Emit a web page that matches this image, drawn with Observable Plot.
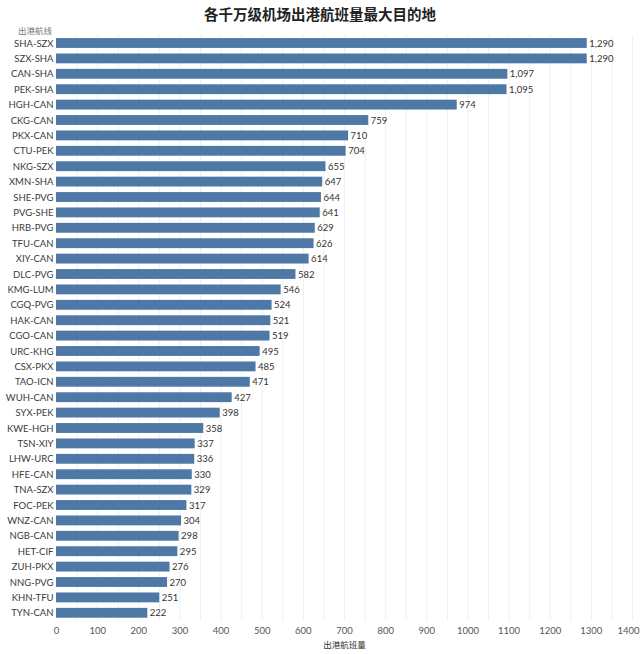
<!DOCTYPE html>
<html>
<head>
<meta charset="utf-8">
<script src="https://cdn.jsdelivr.net/npm/d3@7"></script>
<script src="https://cdn.jsdelivr.net/npm/@observablehq/plot@0.6"></script>
<style>
  body { margin: 0; background: white; }
  #wrap { position: relative; width: 640px; height: 654px; overflow: hidden; }
  #title { position: absolute; left: 0; top: 4px; width: 640px; text-align: center; font-family: "Noto Sans CJK SC", sans-serif; font-weight: bold; font-size: 14.5px; color: #222; line-height: 20px; }
  #ylab { position: absolute; left: 18px; top: 24px; font-family: "Noto Sans CJK SC", sans-serif; font-size: 8.5px; color: #777; line-height: 12px; }
  #chart { position: absolute; left: 0; top: 28px; }
</style>
</head>
<body>
<div id="wrap">
  <div id="title">各千万级机场出港航班量最大目的地</div>
  <div id="ylab">出港航线</div>
  <div id="chart"></div>
</div>
<script>
const routes = ["SHA-SZX","SZX-SHA","CAN-SHA","PEK-SHA","HGH-CAN","CKG-CAN","PKX-CAN","CTU-PEK","NKG-SZX","XMN-SHA","SHE-PVG","PVG-SHE","HRB-PVG","TFU-CAN","XIY-CAN","DLC-PVG","KMG-LUM","CGQ-PVG","HAK-CAN","CGO-CAN","URC-KHG","CSX-PKX","TAO-ICN","WUH-CAN","SYX-PEK","KWE-HGH","TSN-XIY","LHW-URC","HFE-CAN","TNA-SZX","FOC-PEK","WNZ-CAN","NGB-CAN","HET-CIF","ZUH-PKX","NNG-PVG","KHN-TFU","TYN-CAN"];
const flights = [1290,1290,1097,1095,974,759,710,704,655,647,644,641,629,626,614,582,546,524,521,519,495,485,471,427,398,358,337,336,330,329,317,304,298,295,276,270,251,222];
const xTicks = [0,100,200,300,400,500,600,700,800,900,1000,1100,1200,1300,1400];
const gridValues = d3.range(50, 1450, 50);

const data = routes.map((r, i) => ({route: r, value: flights[i]}));
const fmt = d3.format(",");
const lastTick = xTicks[xTicks.length - 1];

const chart = Plot.plot({
  width: 640,
  height: 626,
  marginTop: 7.3,
  marginBottom: 33.5,
  marginLeft: 56,
  marginRight: 8,
  style: { fontFamily: "Lato, 'Open Sans', sans-serif", fontSize: "9px", color: "#444" },
  x: { domain: [0, 1400], ticks: xTicks, label: null },
  y: { domain: routes, paddingInner: 0.36, paddingOuter: 0.18, round: false, label: null },
  marks: [
    Plot.ruleX(gridValues, { stroke: "#efefef", strokeWidth: 1 }),
    Plot.barX(data, { x: "value", y: "route", fill: "#4e79a7" }),
    Plot.text(data, { x: "value", y: "route", text: d => fmt(d.value), textAnchor: "start", dx: 2, fill: "#333", fontSize: 9.5 }),
    Plot.axisY({ tickSize: 0, tickPadding: 3, label: null, fill: "#3a3a3a", fontSize: 9.5 }),
    Plot.axisX({ ticks: xTicks.slice(0, -1), tickSize: 0, tickPadding: 6, label: null, fill: "#555", fontSize: 9.5, tickFormat: d => String(d) }),
    Plot.axisX({ ticks: [lastTick], tickSize: 0, tickPadding: 6, label: null, fill: "#555", fontSize: 9.5, dx: -4, tickFormat: d => String(d) }),
    Plot.text(["出港航班量"], { frameAnchor: "bottom", dy: 27, fontFamily: "'Noto Sans CJK SC', sans-serif", fontSize: 8.5, fill: "#333" })
  ]
});
document.getElementById("chart").appendChild(chart);
</script>
</body>
</html>
